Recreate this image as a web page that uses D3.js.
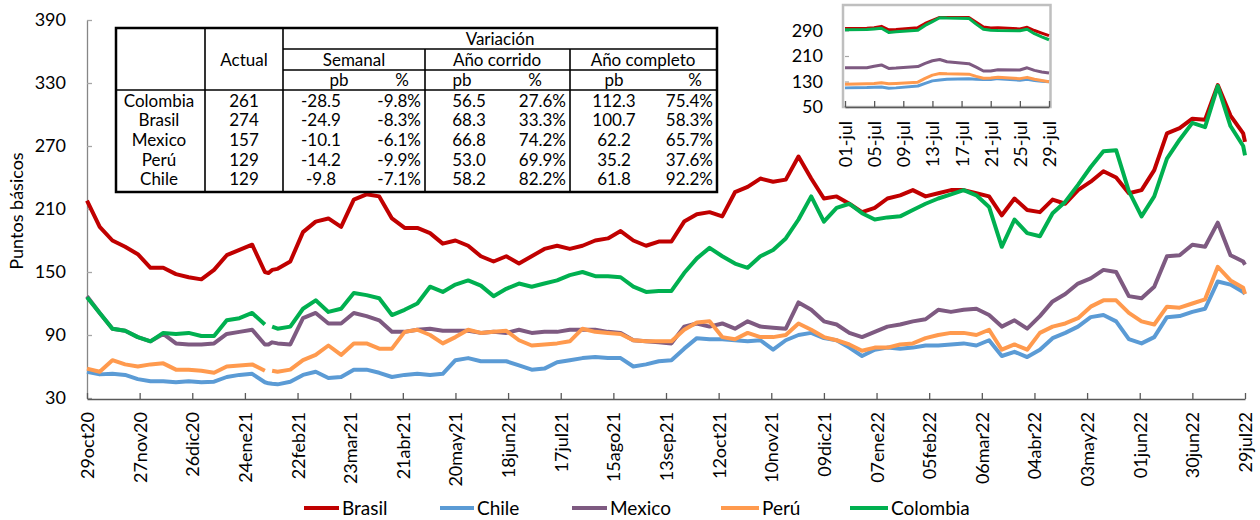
<!DOCTYPE html>
<html>
<head>
<meta charset="utf-8">
<script src="https://cdn.jsdelivr.net/npm/d3@7"></script>
<style>
  html, body { margin: 0; padding: 0; background: #fff; }
  svg { display: block; font-family: Lato, "Open Sans", sans-serif; }
</style>
</head>
<body>
<svg id="chart" width="1260" height="520"></svg>
<script>
// ---- Spreads (puntos básicos), weekly observations ----
const dates = [
  "2020-10-29","2020-11-05","2020-11-12","2020-11-19","2020-11-26","2020-12-03","2020-12-10","2020-12-17","2020-12-24","2020-12-31",
  "2021-01-07","2021-01-14","2021-01-21","2021-01-28","2021-02-04","2021-02-06","2021-02-08","2021-02-11","2021-02-18","2021-02-25",
  "2021-03-04","2021-03-11","2021-03-18","2021-03-25","2021-04-01","2021-04-08","2021-04-15","2021-04-22","2021-04-29",
  "2021-05-06","2021-05-13","2021-05-20","2021-05-27","2021-06-03","2021-06-10","2021-06-17","2021-06-24",
  "2021-07-01","2021-07-08","2021-07-15","2021-07-22","2021-07-29","2021-08-05","2021-08-12","2021-08-19","2021-08-26",
  "2021-09-02","2021-09-09","2021-09-16","2021-09-23","2021-09-30","2021-10-07","2021-10-14","2021-10-21","2021-10-28",
  "2021-11-04","2021-11-11","2021-11-18","2021-11-25","2021-12-02","2021-12-09","2021-12-16","2021-12-23","2021-12-30",
  "2022-01-06","2022-01-13","2022-01-20","2022-01-27","2022-02-03","2022-02-10","2022-02-17","2022-02-24",
  "2022-03-03","2022-03-10","2022-03-17","2022-03-24","2022-03-31","2022-04-07","2022-04-14","2022-04-21","2022-04-28",
  "2022-05-05","2022-05-12","2022-05-19","2022-05-26","2022-06-02","2022-06-09","2022-06-16","2022-06-23","2022-06-30",
  "2022-07-07","2022-07-14","2022-07-21","2022-07-28","2022-07-29"
];

const brasil = [
  218,193,180,174,167,154,154,148,145,143,
  152,166,171,176,150,149,152,153,160,188,
  198,201,193,219,224,222,201,192,192,
  187,177,180,175,165,160,165,158,
  165,172,175,172,175,180,182,189,180,
  175,179,179,198,205,207,203,226,231,
  239,236,238,260,239,220,222,215,207,
  211,220,223,228,222,225,228,228,
  225,222,204,220,209,207,219,215,228,
  236,246,240,225,228,247,282,287,296,
  295,328,299,282,274
];

const chile = [
  55,52.5,53,52,48,46,46,45,46,45,
  45.5,50,52,53,45,44,43.5,43,45.5,52,
  55,49,50,57,57,54,50,52,53,
  52,53,66,68,65,65,65,61,
  57,58,64,66,68,69,68,68,60,
  62,65,66,77,87,86,86,85,84,
  85,76,85,90,92,87,85,78,70,
  76,78,77,78,80,80,81,82,
  80,85,70,74,69,76,87,92,98,
  107,109,103,86,82,88,107,108,112,
  115,141,138,131,129
];

const mexico = [
  127,111,96,94,88,84,91,82,81,81,
  82,91,93,95,81,81,83,82,81,106,
  111,101,101,111,108,104,93,93,95,
  96,94,94,94,92,93,92,95,
  92,93,93,95,95,95,93,92,85,
  84,83,82,98,101,98,101,96,103,
  98,97,96,121,114,103,100,92,88,
  93,98,100,103,105,114,112,114,
  115,109,98,104,96,108,122,129,139,
  144,152,150,127,125,136,165,166,176,
  174,197,166,160,157
];

const peru = [
  58,55,66,62,60,62,63,57,57,56,
  54,60,61,62,56,null,56,55,57,66,
  71,80,71,82,82,77,77,93,95,
  90,82,88,95,92,93,94,85,
  80,81,82,84,96,93,92,91,85,
  84,84,84,95,102,103,88,86,92,
  88,88,90,101,95,88,85,81,75,
  78,78,81,82,87,90,92,92,
  90,95,76,81,76,92,98,101,106,
  117,123,123,111,103,100,117,116,120,
  124,155,142,135,129
];

const colombia = [
  126,111,96,94,88,84,92,91,92,89,
  89,104,106,111,100,null,98,96,98,115,
  123,112,115,130,128,125,109,114,120,
  136,131,138,142,137,127,134,139,
  136,139,142,147,150,146,146,145,136,
  131,132,132,149,163,173,165,158,154,
  165,171,182,200,222,198,211,215,206,
  200,202,203,209,215,220,224,228,
  223,212,174,200,187,184,206,217,233,
  250,265,266,227,203,222,258,276,292,
  288,327,289,270,261
];

const seriesNames = ["Brasil", "Chile", "Mexico", "Perú", "Colombia"];

const yTicks = [30, 90, 150, 210, 270, 330, 390];
const xTickLabels = [
  "29oct20","27nov20","26dic20","24ene21","22feb21","23mar21","21abr21","20may21",
  "18jun21","17jul21","15ago21","13sep21","12oct21","10nov21","09dic21","07ene22",
  "05feb22","06mar22","04abr22","03may22","01jun22","30jun22","29jul22"
];

// ---- July 2022 detail (inset) ----
const insetDates = [
  "2022-07-01","2022-07-04","2022-07-05","2022-07-06","2022-07-07","2022-07-08",
  "2022-07-11","2022-07-12","2022-07-13","2022-07-14","2022-07-15",
  "2022-07-18","2022-07-19","2022-07-20","2022-07-21","2022-07-22",
  "2022-07-25","2022-07-26","2022-07-27","2022-07-28","2022-07-29"
];
const insetBrasil   = [296,297,299,303,292,293,299,312,322,331,331,331,316,301,298,299,295,300,290,282,274];
const insetChile    = [110,111,112,113,109,110,116,124,132,135,137,139,137,136,136,139,134,137,133,131,129];
const insetMexico   = [173,173,178,182,171,172,177,187,195,199,192,186,175,163,163,167,166,173,165,160,157];
const insetPeru     = [121,123,124,126,123,124,128,140,150,155,154,153,146,140,141,143,139,143,137,133,129];
const insetColombia = [292,293,295,297,284,286,291,306,318,330,329,328,310,294,291,290,289,294,280,270,261];
const insetYTicks = [50, 130, 210, 290];
const insetXTickLabels = ["01-jul","05-jul","09-jul","13-jul","17-jul","21-jul","25-jul","29-jul"];

// ---- Summary table ----
const tableCountries = ["Colombia", "Brasil", "Mexico", "Perú", "Chile"];
const tableActual    = [261, 274, 157, 129, 129];
const tableWeekPb    = [-28.5, -24.9, -10.1, -14.2, -9.8];
const tableWeekPct   = [-9.8, -8.3, -6.1, -9.9, -7.1];
const tableYtdPb     = [56.5, 68.3, 66.8, 53.0, 58.2];
const tableYtdPct    = [27.6, 33.3, 74.2, 69.9, 82.2];
const tableYoyPb     = [112.3, 100.7, 62.2, 35.2, 61.8];
const tableYoyPct    = [75.4, 58.3, 65.7, 37.6, 92.2];

// ================= drawing =================
const colors = {
  "Brasil": "#C00000",
  "Chile": "#5B9BD5",
  "Mexico": "#7E5A81",
  "Perú": "#FF9A4E",
  "Colombia": "#00B050"
};
const seriesValues = [brasil, chile, mexico, peru, colombia];
const insetValues = [insetBrasil, insetChile, insetMexico, insetPeru, insetColombia];

const parse = d3.timeParse("%Y-%m-%d");
const svg = d3.select("#chart");

const x = d3.scaleTime()
  .domain([parse("2020-10-29"), parse("2022-07-29")])
  .range([87, 1245]);
const y = d3.scaleLinear().domain([30, 390]).range([398, 20]);

// y axis
const yAxis = svg.append("g")
  .attr("transform", `translate(${x.range()[0]},0)`)
  .call(d3.axisLeft(y).tickValues(yTicks).tickSizeInner(-5).tickSizeOuter(0).tickPadding(21));
yAxis.select(".domain").attr("stroke", "#868686").attr("stroke-width", 1.3);
yAxis.selectAll(".tick line").attr("stroke", "#a6a6a6").attr("stroke-width", 1.3);
yAxis.selectAll(".tick text").attr("font-size", 18).attr("font-family", "Lato").attr("fill", "#000");

// x axis
const xTickDates = xTickLabels.map((_, i) => d3.timeDay.offset(parse("2020-10-29"), 29 * i));
const xAxis = svg.append("g")
  .attr("transform", `translate(0,${y(30) + 1})`)
  .call(d3.axisBottom(x).tickValues(xTickDates).tickSizeInner(-6).tickSizeOuter(0)
    .tickFormat((d, i) => xTickLabels[i]));
xAxis.select(".domain").attr("stroke", "#595959").attr("stroke-width", 1.3);
xAxis.selectAll(".tick line").attr("stroke", "#595959").attr("stroke-width", 1.3);
xAxis.selectAll(".tick text")
  .attr("font-size", 18).attr("font-family", "Lato").attr("fill", "#000")
  .attr("transform", "rotate(-90)")
  .attr("text-anchor", "end")
  .attr("x", -13).attr("y", 0).attr("dy", "0.36em");

// y title
svg.append("text")
  .attr("transform", "translate(17,211) rotate(-90)")
  .attr("text-anchor", "middle")
  .attr("dy", "0.35em")
  .attr("font-size", 18)
  .text("Puntos básicos");

// series
const line = d3.line()
  .defined(d => d.v != null)
  .x(d => x(d.date))
  .y(d => y(d.v));
const parsedDates = dates.map(parse);
seriesNames.forEach((name, si) => {
  const pts = parsedDates.map((d, i) => ({ date: d, v: seriesValues[si][i] }));
  svg.append("path")
    .datum(pts)
    .attr("fill", "none")
    .attr("stroke", colors[name])
    .attr("stroke-width", 4)
    .attr("stroke-linejoin", "round")
    .attr("stroke-linecap", "butt")
    .attr("d", line);
});

// ---- table ----
const T = { left: 116, right: 717, top: 28, bottom: 192 };
const colBounds = [116, 205, 283, 425, 570, 717];
const rowLines = [49, 70, 90];
const tbl = svg.append("g");
tbl.append("rect")
  .attr("x", T.left).attr("y", T.top)
  .attr("width", T.right - T.left).attr("height", T.bottom - T.top)
  .attr("fill", "#fff").attr("stroke", "#000").attr("stroke-width", 2.5);
const inner = (x1, y1, x2, y2) => tbl.append("line")
  .attr("x1", x1).attr("y1", y1).attr("x2", x2).attr("y2", y2)
  .attr("stroke", "#000").attr("stroke-width", 1.6);
inner(colBounds[2], rowLines[0], T.right, rowLines[0]);
inner(colBounds[2], rowLines[1], T.right, rowLines[1]);
inner(T.left, rowLines[2], T.right, rowLines[2]);
inner(colBounds[1], T.top, colBounds[1], T.bottom);
inner(colBounds[2], T.top, colBounds[2], T.bottom);
inner(colBounds[3], rowLines[0], colBounds[3], T.bottom);
inner(colBounds[4], rowLines[0], colBounds[4], T.bottom);

const txt = (s, xx, yy, anchor) => tbl.append("text")
  .attr("x", xx).attr("y", yy)
  .attr("text-anchor", anchor || "middle")
  .attr("dy", "0.35em")
  .attr("font-size", 17)
  .attr("fill", "#000")
  .text(s);

txt("Variación", 500, 39);
txt("Actual", 244, 60);
txt("Semanal", 354, 60);
txt("Año corrido", 497, 60);
txt("Año completo", 643, 60);
[["pb", 339], ["%", 402], ["pb", 462], ["%", 535], ["pb", 614], ["%", 695]]
  .forEach(([s, cx]) => txt(s, cx, 80));

const fmt1 = v => v.toFixed(1);
const rowY = [101, 120.5, 140, 160, 179.5];
tableCountries.forEach((c, i) => {
  const ry = rowY[i];
  txt(c, 159, ry);
  txt(String(tableActual[i]), 244, ry);
  txt(fmt1(tableWeekPb[i]), 321, ry);
  txt(fmt1(tableWeekPct[i]) + "%", 421, ry, "end");
  txt(fmt1(tableYtdPb[i]), 469, ry);
  txt(fmt1(tableYtdPct[i]) + "%", 566, ry, "end");
  txt(fmt1(tableYoyPb[i]), 614, ry);
  txt(fmt1(tableYoyPct[i]) + "%", 713, ry, "end");
});

// ---- inset ----
const ix = d3.scaleTime().domain([parse("2022-07-01"), parse("2022-07-29")]).range([845, 1049]);
const iy = d3.scaleLinear().domain([50, 370]).range([107, 5]);
const inset = svg.append("g");
inset.append("rect")
  .attr("x", 843).attr("y", 5).attr("width", 1050.5 - 843).attr("height", 107 - 5)
  .attr("fill", "#fff").attr("stroke", "#bfbfbf").attr("stroke-width", 2.5);

const iyAxis = inset.append("g")
  .attr("transform", "translate(845,0)")
  .call(d3.axisLeft(iy).tickValues(insetYTicks).tickSizeInner(-4).tickSizeOuter(0).tickPadding(22));
iyAxis.select(".domain").remove();
iyAxis.selectAll(".tick line").attr("stroke", "#a6a6a6").attr("stroke-width", 1.2);
iyAxis.selectAll(".tick text").attr("font-size", 18).attr("font-family", "Lato").attr("fill", "#000");

const insetTickDates = insetXTickLabels.map((_, i) => d3.timeDay.offset(parse("2022-07-01"), 4 * i));
const ixAxis = inset.append("g")
  .attr("transform", "translate(0,107)")
  .call(d3.axisBottom(ix).tickValues(insetTickDates).tickSizeInner(-6).tickSizeOuter(0)
    .tickFormat((d, i) => insetXTickLabels[i]));
ixAxis.select(".domain").attr("stroke", "#595959").attr("stroke-width", 1.5);
ixAxis.selectAll(".tick line").attr("stroke", "#595959").attr("stroke-width", 1.3);
ixAxis.selectAll(".tick text")
  .attr("font-size", 18).attr("font-family", "Lato").attr("fill", "#000")
  .attr("transform", "rotate(-90)")
  .attr("text-anchor", "end")
  .attr("x", -14).attr("y", 0).attr("dy", "0.36em");

const iline = d3.line().x(d => ix(d.date)).y(d => iy(d.v));
const insetParsed = insetDates.map(parse);
seriesNames.forEach((name, si) => {
  const pts = insetParsed.map((d, i) => ({ date: d, v: insetValues[si][i] }));
  inset.append("path")
    .datum(pts)
    .attr("fill", "none")
    .attr("stroke", colors[name])
    .attr("stroke-width", 3)
    .attr("stroke-linejoin", "round")
    .attr("d", iline);
});

// ---- legend ----
const legendPos = [[304, 339], [440, 474], [572, 607], [721, 759], [850, 888]];
const legendY = 508;
const lg = svg.append("g");
seriesNames.forEach((name, i) => {
  const [x1, x2] = legendPos[i];
  lg.append("line")
    .attr("x1", x1).attr("x2", x2).attr("y1", legendY).attr("y2", legendY)
    .attr("stroke", colors[name]).attr("stroke-width", 4);
  lg.append("text")
    .attr("x", x2 + 3).attr("y", legendY)
    .attr("dy", "0.35em")
    .attr("font-size", 19)
    .text(name);
});
</script>
</body>
</html>
